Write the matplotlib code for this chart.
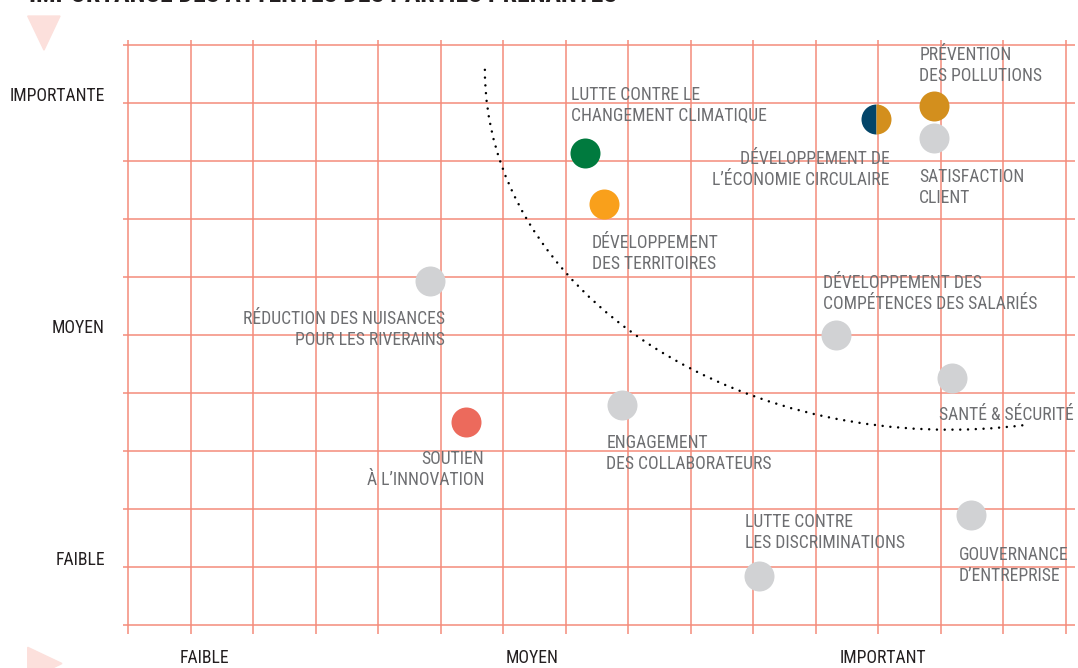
import numpy as np
import matplotlib
matplotlib.use("Agg")
import matplotlib.pyplot as plt
from matplotlib import font_manager
from matplotlib.patches import Arc, Polygon

# enjeux : position (importance pour l'entreprise, attentes des parties prenantes)
names = [
    "PRÉVENTION\nDES POLLUTIONS",
    "SATISFACTION\nCLIENT",
    "DÉVELOPPEMENT DE\nL’ÉCONOMIE CIRCULAIRE",
    "LUTTE CONTRE LE\nCHANGEMENT CLIMATIQUE",
    "DÉVELOPPEMENT\nDES TERRITOIRES",
    "RÉDUCTION DES NUISANCES\nPOUR LES RIVERAINS",
    "DÉVELOPPEMENT DES\nCOMPÉTENCES DES SALARIÉS",
    "SANTÉ & SÉCURITÉ",
    "ENGAGEMENT\nDES COLLABORATEURS",
    "SOUTIEN\nÀ L’INNOVATION",
    "LUTTE CONTRE\nLES DISCRIMINATIONS",
    "GOUVERNANCE\nD’ENTREPRISE",
]
x_vals = [12.90, 12.90, 11.96, 7.31, 7.61, 4.83, 11.32, 13.19, 7.91, 5.41, 10.10, 13.48]
y_vals = [8.96, 8.41, 8.74, 8.14, 7.26, 5.94, 5.01, 4.27, 3.80, 3.50, 0.86, 1.90]
colors = ["#d38f1d", "#d1d2d4", "half", "#007a3e", "#f9a01b", "#d1d2d4",
          "#d1d2d4", "#d1d2d4", "#d1d2d4", "#ec6a5c", "#d1d2d4", "#d1d2d4"]

x_ticks = [1.22, 6.46, 12.08]
x_ticklabels = ["FAIBLE", "MOYEN", "IMPORTANT"]
y_ticks = [1, 5, 9]
y_ticklabels = ["FAIBLE", "MOYEN", "IMPORTANTE"]

# label placement, pixels from the dot to the first baseline (y down), alignment
label_offsets = [(-15, -46), (-15, 44), (14, 45), (-14, -53), (-12, 44), (15, 43),
                 (-13, -47), (-13, 42), (-16, 43), (18, 42), (-14, -49), (-12, 45)]
label_ha = ["left", "left", "right", "left", "left", "right",
            "left", "left", "left", "right", "left", "left"]

# pick the narrowest installed family
ttf = font_manager.fontManager.ttflist
fam_names = {f.name for f in ttf}
stretch = "normal"
if "Roboto Condensed" in fam_names:
    fam = "Roboto Condensed"
elif "Liberation Sans Narrow" in fam_names:
    fam = "Liberation Sans Narrow"
elif any(f.name == "DejaVu Sans" and "condensed" in str(f.stretch) for f in ttf):
    fam = "DejaVu Sans"
    stretch = "condensed"
else:
    fam = "DejaVu Sans"
plt.rcParams["font.family"] = [fam, "DejaVu Sans"]
plt.rcParams["font.stretch"] = stretch

grid_col = "#f48b7b"
label_col = "#6d6e71"
dark = "#231f20"
fs = 12.7

fig = plt.figure(figsize=(10.78, 6.68), dpi=100)
ax = fig.add_axes([0, 0, 1, 1])
ax.set_xlim(-2.048, 15.2)
ax.set_ylim(-0.733, 10.784)
ax.axis("off")

# grid
ax.vlines(np.arange(0, 16), -0.15, 10.1, color=grid_col, lw=1.1, zorder=1)
ax.hlines(np.arange(0, 11), -0.08, 15.15, color=grid_col, lw=1.1, zorder=1)

# dotted frontier
arc = Arc((13.15, 9.58), 14.88, 12.41, theta1=180, theta2=281.5,
          color="black", lw=1.8, linestyle=(0, (0.01, 3.1)), zorder=2)
arc.set_capstyle("round")
ax.add_patch(arc)

# dots
for x, y, c in zip(x_vals, y_vals, colors):
    if c == "half":
        ax.plot(x, y, "o", ms=21.6, fillstyle="left", markerfacecolor="#034569",
                markerfacecoloralt="#d38f1d", markeredgewidth=0, zorder=3)
    else:
        ax.plot(x, y, "o", ms=21.6, color=c, markeredgewidth=0, zorder=3)

# labels
pitch = 21
for name, x, y, (dx, dy), ha in zip(names, x_vals, y_vals, label_offsets, label_ha):
    for i, line in enumerate(name.split("\n")):
        ax.annotate(line, (x, y), xytext=(dx, -(dy + i * pitch)),
                    textcoords="offset pixels", ha=ha, va="baseline",
                    fontsize=fs, color=label_col, zorder=4)

# axis labels
for yt, lab in zip(y_ticks, y_ticklabels):
    ax.annotate(lab, (-0.37, yt), xytext=(0, 2), textcoords="offset pixels",
                ha="right", va="baseline", fontsize=fs, color=dark)
for xt, lab in zip(x_ticks, x_ticklabels):
    ax.text(xt, -0.64, lab, ha="center", va="baseline", fontsize=fs, color=dark)

# title and arrows
fig.text(0.027, 1 - 2 / 668, "IMPORTANCE DES ATTENTES DES PARTIES PRENANTES",
         ha="left", va="baseline", fontsize=18.5, fontweight="bold", color=dark)
fig.patches.append(Polygon([[0.0257, 0.976], [0.0557, 0.976], [0.0408, 0.925]],
                           closed=True, color="#fce0dc", transform=fig.transFigure))
fig.patches.append(Polygon([[0.0257, 0.031], [0.0257, -0.018], [0.0575, 0.0067]],
                           closed=True, color="#fce0dc", transform=fig.transFigure))

fig.savefig("out.png", dpi=100)
